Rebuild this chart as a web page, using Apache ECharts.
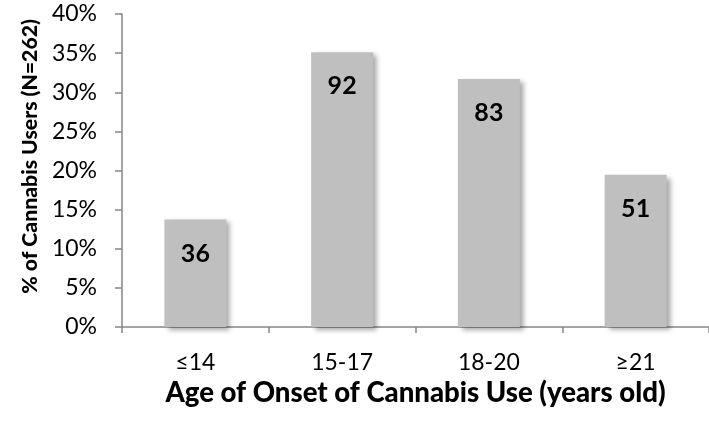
<!DOCTYPE html>
<html>
<head>
<meta charset="utf-8">
<script src="https://cdn.jsdelivr.net/npm/echarts@6/dist/echarts.min.js"></script>
<style>
  html, body { margin: 0; padding: 0; background: #fff; }
  #chart { width: 709px; height: 421px; }
</style>
</head>
<body>
<div id="chart"></div>
<script>
// Age-of-onset groups and number of users in each
const categories = ['≤14', '15-17', '18-20', '≥21'];
const userCounts = [36, 92, 83, 51];
const totalUsers = 262;
const yTicks = { min: 0, max: 40, interval: 5 };

// Bar heights are each group's share of all users, in percent
const sharePercent = userCounts.map(c => c / totalUsers * 100);

const FONT = 'Lato, "Liberation Sans", sans-serif';
const AXIS_GREY = '#868686';

const chart = echarts.init(document.getElementById('chart'), null, { renderer: 'canvas' });

chart.setOption({
  animation: false,
  grid: { left: 122, top: 14, width: 599, bottom: 94, containLabel: false },
  xAxis: {
    type: 'category',
    data: categories,
    name: 'Age of Onset of Cannabis Use (years old)',
    nameLocation: 'middle',
    nameGap: 52,
    nameTextStyle: { fontFamily: FONT, fontWeight: 900, fontSize: 27.6, color: '#000' },
    axisLine: { lineStyle: { color: AXIS_GREY, width: 1.5 } },
    axisTick: { show: true, length: 6, lineStyle: { color: AXIS_GREY, width: 1.5 } },
    axisLabel: { fontFamily: FONT, fontSize: 23, color: '#000', margin: 24 }
  },
  yAxis: {
    type: 'value',
    min: yTicks.min,
    max: yTicks.max,
    interval: yTicks.interval,
    name: '% of Cannabis Users (N=262)',
    nameLocation: 'middle',
    nameGap: 71,
    nameRotate: 90,
    nameTextStyle: { fontFamily: FONT, fontWeight: 900, fontSize: 21.2, color: '#000', padding: [0, 0, 0, 28] },
    axisLine: { show: true, lineStyle: { color: AXIS_GREY, width: 1.5 } },
    axisTick: { show: true, length: 7, lineStyle: { color: AXIS_GREY, width: 1.5 } },
    splitLine: { show: false },
    axisLabel: { fontFamily: FONT, fontSize: 23, color: '#000', margin: 25, formatter: '{value}%' }
  },
  series: [{
    type: 'bar',
    data: sharePercent,
    barWidth: 62,
    itemStyle: {
      color: '#BFBFBF',
      shadowColor: 'rgba(0,0,0,0.35)',
      shadowBlur: 5,
      shadowOffsetX: 4,
      shadowOffsetY: 3
    },
    label: {
      show: true,
      position: ['50%', 34],
      align: 'center',
      verticalAlign: 'middle',
      fontFamily: FONT,
      fontWeight: 'bold',
      fontSize: 25,
      color: '#000',
      formatter: p => userCounts[p.dataIndex]
    }
  }]
});
</script>
</body>
</html>
